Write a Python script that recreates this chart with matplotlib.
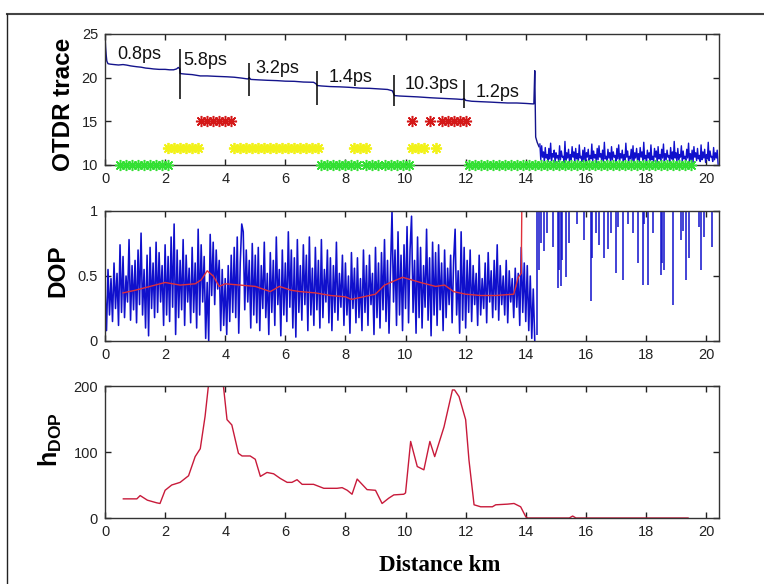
import numpy as np
import matplotlib
matplotlib.use('Agg')
import matplotlib.pyplot as plt
from matplotlib.lines import Line2D

plt.rcParams['font.family'] = 'Liberation Sans'
plt.rcParams['mathtext.fontset'] = 'custom'
plt.rcParams['mathtext.bf'] = 'Liberation Sans:bold'
plt.rcParams['mathtext.rm'] = 'Liberation Sans'

# OTDR trace, before the end of the link
otdr_x = [0, 0.01, 0.02, 0.04, 0.06, 0.1, 0.17, 0.3, 0.45, 0.6, 0.72, 0.85, 0.95, 1.06, 1.2, 1.35,
          1.5, 1.61, 1.8, 2.0, 2.15, 2.28, 2.38, 2.44, 2.49, 2.5, 2.55, 2.7, 2.9, 3.17, 3.4, 3.7,
          4.06, 4.3, 4.55, 4.75, 4.8, 4.85, 5.1, 5.4, 5.72, 6.0, 6.3, 6.6, 6.94, 7.02, 7.06, 7.2,
          7.5, 7.8, 8.1, 8.5, 8.8, 9.17, 9.4, 9.56, 9.6, 9.63, 9.8, 10.1, 10.4, 10.83, 11.1, 11.4,
          11.7, 11.89, 11.95, 12.0, 12.2, 12.5, 12.83, 13.1, 13.4, 13.7, 14.0, 14.22, 14.27, 14.3,
          14.33, 14.38, 14.44]
otdr_y = [24.6, 24.2, 23.5, 22.6, 21.9, 21.6, 21.55, 21.5, 21.45, 21.5, 21.44, 21.35, 21.3, 21.25, 21.2, 21.1,
          21.05, 21.0, 20.95, 20.95, 20.9, 20.9, 21.0, 21.17, 21.0, 20.5, 20.45, 20.4, 20.35, 20.2, 20.2, 20.15,
          20.1, 20.05, 19.95, 19.85, 20.0, 19.8, 19.75, 19.7, 19.66, 19.6, 19.58, 19.5, 19.47, 19.3, 19.1, 19.05,
          18.98, 18.95, 18.9, 18.8, 18.78, 18.7, 18.65, 18.5, 18.2, 17.95, 17.9, 17.85, 17.8, 17.7, 17.65, 17.6,
          17.55, 17.5, 17.6, 17.4, 17.3, 17.25, 17.2, 17.15, 17.1, 17.1, 17.05, 17.0, 17.0, 20.8,
          13.2, 12.6, 12.1]

# OTDR noise after the fibre end (14.47 .. 20.4 km)
otdr_tail = [
    12.4, 10.6, 12.2, 10.9, 11.5, 10.3, 12.0, 10.8, 11.2, 10.4, 11.9, 10.7, 12.5, 10.5, 11.3, 10.9, 11.7, 10.2, 11.4, 10.8,
    11.1, 10.4, 12.2, 10.6, 11.6, 10.9, 11.0, 10.3, 12.7, 10.5, 11.4, 10.8, 11.8, 10.4, 11.2, 10.6, 12.1, 10.9, 11.5, 10.3,
    11.9, 10.7, 11.3, 10.5, 12.3, 10.8, 11.0, 10.4, 11.7, 10.6, 12.0, 10.2, 11.4, 10.9, 11.8, 10.5, 11.1, 10.7, 12.4, 10.4,
    11.6, 10.8, 11.2, 10.3, 11.9, 10.6, 12.2, 10.9, 11.3, 10.5, 11.7, 10.4, 12.6, 10.7, 11.0, 10.5, 11.8, 10.8, 11.4, 10.2,
    12.1, 10.6, 11.5, 10.9, 11.1, 10.4, 11.9, 10.7, 12.3, 10.5, 11.3, 10.8, 11.7, 10.3, 11.2, 10.6, 12.5, 10.9, 11.6, 10.4,
    11.0, 10.7, 11.8, 10.5, 12.2, 10.3, 11.4, 10.8, 11.9, 10.6, 11.3, 10.4, 12.0, 10.9, 11.5, 10.5, 12.6, 10.7, 11.1, 10.3,
    11.7, 10.8, 11.4, 10.5, 12.3, 10.6, 11.0, 10.4, 11.9, 10.9, 11.6, 10.2, 12.1, 10.7, 11.2, 10.5, 11.8, 10.8, 12.4, 10.4,
    11.3, 10.6, 11.7, 10.9, 11.1, 10.3, 12.0, 10.7, 11.5, 10.5, 12.7, 10.8, 11.4, 10.4, 11.9, 10.6, 11.2, 10.9, 12.2, 10.3,
    11.6, 10.7, 11.0, 10.5, 11.8, 10.8, 12.5, 10.4, 11.3, 10.6, 11.7, 10.2, 12.1, 10.9, 11.4, 10.5, 11.9, 10.7, 11.1, 10.4,
    12.3, 10.6, 11.5, 10.8, 11.8, 10.3, 11.2, 10.7, 12.6, 10.5, 11.6, 10.9, 11.0, 10.4, 12.0, 10.6, 11.4, 10.8, 11.7, 10.1,
]

# splice marks and PMD labels
splice_x = [2.5, 4.8, 7.07, 9.6, 11.93]
splice_top = [23.3, 21.7, 20.8, 20.3, 19.7]
splice_bot = [17.6, 17.95, 16.9, 16.7, 16.5]
pmd_labels = ['0.8ps', '5.8ps', '3.2ps', '1.4ps', '10.3ps', '1.2ps']
pmd_x = [0.4, 2.6, 5.0, 7.43, 9.97, 12.33]
pmd_y = [22.7, 22.0, 21.1, 20.0, 19.2, 18.3]

# star rows
red_x = [3.2, 3.4, 3.6, 3.8, 4.0, 4.2, 10.2, 10.8, 11.2, 11.4, 11.6, 11.8, 12.0]
yellow_x = [2.1, 2.3, 2.5, 2.7, 2.9, 3.1, 4.3, 4.5, 4.7, 4.9, 5.1, 5.3, 5.5, 5.7, 5.9, 6.1, 6.3, 6.5,
            6.7, 6.9, 7.1, 8.3, 8.5, 8.7, 10.2, 10.4, 10.6, 11.0]
green_x = [0.5, 0.7, 0.9, 1.1, 1.3, 1.5, 1.7, 1.9, 2.1,
           7.2, 7.4, 7.6, 7.8, 8.0, 8.2, 8.4,
           8.7, 8.9, 9.1, 9.3, 9.5, 9.7, 9.9, 10.1,
           12.1, 12.3, 12.5, 12.7, 12.9, 13.1, 13.3, 13.5, 13.7, 13.9, 14.1, 14.3, 14.5, 14.7, 14.9,
           15.1, 15.3, 15.5, 15.7, 15.9, 16.1, 16.3, 16.5, 16.7, 16.9, 17.1, 17.3, 17.5, 17.7, 17.9,
           18.1, 18.3, 18.5, 18.7, 18.9, 19.1, 19.3, 19.5]
red_level = 15
yellow_level = 12
green_level = 10

# DOP along the fibre, 0 .. 14.3 km
dop_front = [
    0.40, 0.08, 0.55, 0.20, 0.48, 0.15, 0.60, 0.25, 0.52, 0.12, 0.74, 0.22, 0.65, 0.18, 0.50, 0.30, 0.78, 0.16, 0.58, 0.24,
    0.62, 0.14, 0.70, 0.28, 0.83, 0.20, 0.55, 0.10, 0.66, 0.04, 0.72, 0.25, 0.60, 0.18, 0.76, 0.22, 0.68, 0.30, 0.58, 0.12,
    0.74, 0.20, 0.65, 0.15, 0.80, 0.26, 0.90, 0.05, 0.70, 0.18, 0.62, 0.24, 0.78, 0.12, 0.66, 0.30, 0.56, 0.14, 0.72, 0.22,
    0.60, 0.10, 0.86, 0.20, 0.74, 0.30, 0.65, 0.02, 0.45, 0.00, 0.82, 0.35, 0.76, 0.28, 0.70, 0.40, 0.62, 0.08, 0.55, 0.12,
    0.48, 0.05, 0.58, 0.15, 0.66, 0.22, 0.72, 0.18, 0.80, 0.06, 0.60, 0.90, 0.84, 0.24, 0.70, 0.30, 0.62, 0.10, 0.75, 0.20,
    0.66, 0.14, 0.72, 0.08, 0.58, 0.25, 0.76, 0.18, 0.52, 0.05, 0.68, 0.22, 0.62, 0.12, 0.80, 0.28, 0.55, 0.04, 0.70, 0.20,
    0.60, 0.15, 0.84, 0.26, 0.70, 0.10, 0.64, 0.03, 0.78, 0.22, 0.58, 0.16, 0.74, 0.28, 0.66, 0.08, 0.80, 0.20, 0.56, 0.12,
    0.72, 0.24, 0.62, 0.10, 0.78, 0.18, 0.55, 0.30, 0.70, 0.14, 0.64, 0.08, 0.58, 0.22, 0.76, 0.16, 0.52, 0.26, 0.66, 0.12,
    0.60, 0.20, 0.50, 0.06, 0.68, 0.25, 0.56, 0.14, 0.64, 0.18, 0.48, 0.08, 0.70, 0.22, 0.58, 0.12, 0.66, 0.28, 0.52, 0.05,
    0.72, 0.18, 0.60, 0.10, 0.68, 0.24, 0.78, 0.15, 0.62, 0.06, 0.55, 1.00, 0.30, 0.70, 0.12, 0.84, 0.20, 0.66, 0.08, 0.74,
    0.25, 0.88, 0.14, 0.70, 0.96, 0.22, 0.62, 0.06, 0.80, 0.18, 0.72, 0.10, 0.58, 0.26, 0.86, 0.16, 0.64, 0.04, 0.76, 0.20,
    0.68, 0.12, 0.74, 0.24, 0.60, 0.08, 0.70, 0.18, 0.56, 0.28, 0.66, 0.14, 0.62, 0.86, 0.20, 0.54, 0.06, 0.84, 0.16, 0.72,
    0.10, 0.62, 0.22, 0.70, 0.15, 0.58, 0.28, 0.52, 0.12, 0.66, 0.20, 0.48, 0.25, 0.60, 0.14, 0.68, 0.30, 0.54, 0.18, 0.62,
    0.24, 0.74, 0.16, 0.58, 0.28, 0.50, 0.20, 0.62, 0.14, 0.54, 0.30, 0.48, 0.18, 0.56, 0.26, 0.52, 0.12, 0.72, 0.22, 0.60,
    0.15, 0.58, 0.08, 0.50, 0.02, 0.40, 0.00,
]

# DOP after the fibre end: near 1 with downward spikes
spike_x = [14.36, 14.44, 14.52, 14.61, 14.72, 14.89, 15.06, 15.10, 15.17, 15.22, 15.33, 15.44, 15.72, 15.94,
           16.17, 16.22, 16.33, 16.44, 16.61, 16.72, 16.83, 17.0, 17.06, 17.22, 17.39, 17.56, 17.72, 17.89,
           17.94, 18.06, 18.22, 18.5, 18.55, 18.61, 18.89, 19.17, 19.22, 19.33, 19.44, 19.78, 19.83, 19.94, 20.2]
spike_y = [0.05, 0.55, 0.75, 0.69, 0.83, 0.72, 0.41, 0.55, 0.42, 0.62, 0.49, 0.75, 0.90, 0.78,
           0.31, 0.64, 0.83, 0.74, 0.64, 0.71, 0.83, 0.52, 0.88, 0.47, 0.90, 0.83, 0.60, 0.43,
           0.90, 0.43, 0.83, 0.51, 0.60, 0.55, 0.28, 0.78, 0.85, 0.47, 0.64, 0.88, 0.55, 0.80, 0.72]

# smoothed DOP (red)
dop_mean_x = [0.6, 1.0, 1.5, 2.0, 2.5, 3.0, 3.2, 3.4, 3.6, 3.8, 4.0, 4.5, 5.0, 5.5, 5.8, 6.2, 6.5, 7.0, 7.5,
              8.0, 8.2, 8.6, 9.0, 9.3, 9.6, 9.9, 10.2, 10.5, 11.0, 11.3, 11.6, 12.0, 12.5, 13.0, 13.6, 13.75,
              13.85, 13.87]
dop_mean_y = [0.37, 0.39, 0.42, 0.45, 0.43, 0.44, 0.47, 0.54, 0.50, 0.42, 0.44, 0.43, 0.42, 0.38, 0.42, 0.39,
              0.38, 0.37, 0.35, 0.34, 0.32, 0.34, 0.36, 0.43, 0.46, 0.49, 0.47, 0.45, 0.42, 0.43, 0.38, 0.36,
              0.35, 0.35, 0.36, 0.49, 0.52, 1.05]

# h_DOP
h_x = [0.61, 1.06, 1.17, 1.41, 1.72, 1.83, 2.0, 2.22, 2.5, 2.78, 3.0, 3.17, 3.33, 3.44, 3.6, 3.75, 3.94,
       4.06, 4.22, 4.44, 4.56, 4.83, 5.0, 5.17, 5.39, 5.61, 5.83, 6.06, 6.22, 6.39, 6.56, 6.94, 7.28, 7.72,
       7.89, 8.06, 8.22, 8.39, 8.72, 9.0, 9.22, 9.44, 9.61, 9.94, 10.0, 10.17, 10.39, 10.61, 10.81, 10.97,
       11.28, 11.56, 11.63, 11.78, 12.0, 12.11, 12.28, 12.5, 12.89, 13.0, 13.39, 13.61, 13.83, 14.0, 14.06,
       15.45, 15.56, 15.67, 19.4]
h_y = [29, 29, 34, 27, 23, 22, 42, 50, 54, 64, 93, 105, 154, 200, 250, 240, 200,
       149, 141, 98, 94, 94, 89, 63, 69, 67, 60, 54, 54, 58, 51, 51, 45, 45,
       46, 42, 36, 59, 43, 42, 22, 30, 35, 36, 38, 116, 78, 73, 116, 93,
       138, 194, 194, 184, 149, 88, 20, 17, 17, 20, 21, 22, 17, 2, 0,
       0, 3, 0, 0]

x_ticks = [0, 2, 4, 6, 8, 10, 12, 14, 16, 18, 20]

blue = '#1010cc'
navy = '#14148c'
spine_col = '#333333'

fig = plt.figure(figsize=(7.64, 5.84), dpi=100)

# frame lines of the original figure window
fig.add_artist(Line2D([7 / 764, 1.0], [1 - 14 / 584, 1 - 14 / 584], transform=fig.transFigure,
                      color='#444444', linewidth=1.5))
fig.add_artist(Line2D([7 / 764, 7 / 764], [0, 1 - 14 / 584], transform=fig.transFigure,
                      color='#222222', linewidth=1.0))

left = 105 / 764
width = 614 / 764
ax1 = fig.add_axes([left, 1 - 165 / 584, width, 131 / 584])
ax2 = fig.add_axes([left, 1 - 341 / 584, width, 130 / 584])
ax3 = fig.add_axes([left, 1 - 518 / 584, width, 132 / 584])


def style(ax):
    ax.set_xlim(0, 20.43)
    ax.set_xticks(x_ticks)
    ax.tick_params(direction='in', length=4, width=1, top=True, right=True,
                   labelsize=10.5, colors='#222222', pad=5)
    for s in ax.spines.values():
        s.set_color(spine_col)
        s.set_linewidth(1.0)


# top: OTDR trace
ax1.plot(otdr_x, otdr_y, color=navy, linewidth=1.0)
tail_x = np.linspace(14.47, 20.4, len(otdr_tail))
ax1.plot(tail_x, otdr_tail, color=blue, linewidth=1.0)
ax1.vlines(splice_x, splice_bot, splice_top, color='black', linewidth=1.1)
for lab, tx, ty in zip(pmd_labels, pmd_x, pmd_y):
    ax1.text(tx, ty, lab, fontsize=13, ha='left', va='center', color='#111111')
star = (8, 2, 0)
ax1.plot(red_x, [red_level] * len(red_x), linestyle='none', marker=star, markersize=8,
         markeredgewidth=1.1, color='#d41818', zorder=5)
ax1.plot(yellow_x, [yellow_level] * len(yellow_x), linestyle='none', marker=star, markersize=8,
         markeredgewidth=1.3, color='#f2f21a', zorder=5)
ax1.plot(green_x, [green_level] * len(green_x), linestyle='none', marker=star, markersize=8,
         markeredgewidth=1.1, color='#33e033', zorder=6, clip_on=False)
ax1.set_ylim(10, 25)
ax1.set_yticks([10, 15, 20, 25])
style(ax1)

# middle: DOP
front_x = np.linspace(0, 14.3, len(dop_front))
ax2.plot(front_x, dop_front, color=blue, linewidth=1.15)
ax2.vlines(spike_x, spike_y, 1.0, color=blue, linewidth=1.1)
ax2.plot(dop_mean_x, dop_mean_y, color='#e0303a', linewidth=1.0)
ax2.set_ylim(0, 1)
ax2.set_yticks([0, 0.5, 1])
ax2.set_yticklabels(['0', '0.5', '1'])
style(ax2)

# bottom: h_DOP
ax3.plot(h_x, h_y, color='#c81a3a', linewidth=1.0)
ax3.set_ylim(0, 200)
ax3.set_yticks([0, 100, 200])
style(ax3)

# axis labels placed like the original
fig.text(63 / 764, 1 - 104 / 584, 'OTDR trace', rotation=90, fontsize=17.5, fontweight='bold',
         ha='center', va='center')
fig.text(58 / 764, 1 - 271 / 584, 'DOP', rotation=90, fontsize=17.5, fontweight='bold',
         ha='center', va='center')
fig.text(50 / 764, 1 - 440 / 584, r'$\mathbf{h}_{\mathbf{DOP}}$', rotation=90, fontsize=18,
         ha='center', va='center')
fig.text(440 / 764, 1 - 571 / 584, 'Distance km', fontsize=16.5, fontweight='bold',
         family='Liberation Serif', ha='center', va='baseline')

fig.savefig('out.png', dpi=100)
